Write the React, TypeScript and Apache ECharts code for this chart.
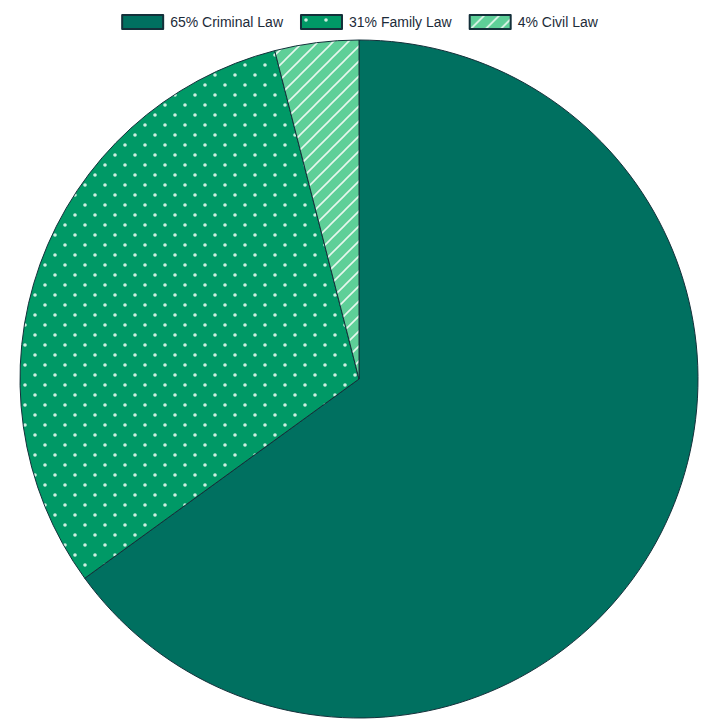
import React, { useEffect, useRef } from "react";
import * as echarts from "echarts";

const categories = ["Criminal Law", "Family Law", "Civil Law"];
const values = [65, 31, 4];
const colors = ["#007060", "#009966", "#5ecf98"];

function dotTile(bg: string) {
  const c = document.createElement("canvas");
  c.width = 20;
  c.height = 20;
  const g = c.getContext("2d")!;
  g.fillStyle = bg;
  g.fillRect(0, 0, 20, 20);
  g.fillStyle = "#cdeee0";
  [[5, 5], [15, 15]].forEach(([x, y]) => {
    g.beginPath();
    g.arc(x, y, 1.8, 0, Math.PI * 2);
    g.fill();
  });
  return c;
}

function stripeTile(bg: string) {
  const s = 15;
  const c = document.createElement("canvas");
  c.width = s;
  c.height = s;
  const g = c.getContext("2d")!;
  g.fillStyle = bg;
  g.fillRect(0, 0, s, s);
  g.strokeStyle = "#e6f7ee";
  g.lineWidth = 1.6;
  g.beginPath();
  g.moveTo(-2, s + 2);
  g.lineTo(s + 2, -2);
  g.moveTo(-2, 2);
  g.lineTo(2, -2);
  g.moveTo(s - 2, s + 2);
  g.lineTo(s + 2, s - 2);
  g.stroke();
  return c;
}

export default function App() {
  const ref = useRef<HTMLDivElement>(null);
  useEffect(() => {
    const chart = echarts.init(ref.current!, null, { renderer: "svg" });
    const fills: any[] = [
      colors[0],
      { image: dotTile(colors[1]), repeat: "repeat" },
      { image: stripeTile(colors[2]), repeat: "repeat" },
    ];
    const names = categories.map((c, i) => `${values[i]}% ${c}`);
    chart.setOption({
      animation: false,
      legend: {
        top: 9,
        left: "center",
        icon: "rect",
        itemWidth: 41,
        itemHeight: 14,
        itemGap: 17,
        textStyle: {
          color: "#1c2b39",
          fontSize: 14,
          padding: [0, 0, 0, 2],
          fontFamily: "Liberation Sans, Arial, sans-serif",
        },
        data: names,
      },
      series: [
        {
          type: "pie",
          center: [359, 379],
          radius: 339,
          startAngle: 90,
          clockwise: true,
          label: { show: false },
          labelLine: { show: false },
          emphasis: { disabled: true },
          itemStyle: { borderColor: "#14303a", borderWidth: 1 },
          data: names.map((n, i) => ({
            name: n,
            value: values[i],
            itemStyle: { color: fills[i] },
          })),
        },
      ],
    });
    return () => chart.dispose();
  }, []);
  return (
    <div
      ref={ref}
      style={{ position: "absolute", left: 0, top: 0, width: 719, height: 719 }}
    />
  );
}
